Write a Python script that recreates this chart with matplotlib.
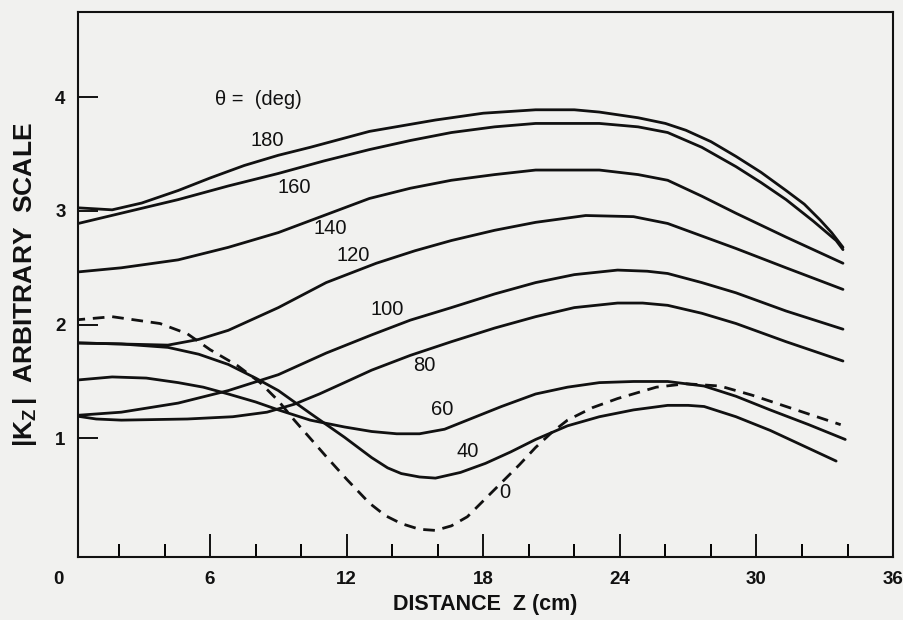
import numpy as np
import matplotlib
matplotlib.use("Agg")
import matplotlib.pyplot as plt
from matplotlib.ticker import FixedLocator

plt.rcParams['font.family'] = ['Liberation Sans', 'DejaVu Sans']
plt.rcParams['mathtext.fontset'] = 'custom'
plt.rcParams['mathtext.rm'] = 'Liberation Sans:bold'
plt.rcParams['mathtext.it'] = 'Liberation Sans:italic'

# curve values: distance z (cm) -> |Kz| (arbitrary)
z_180 = [0, 1.7, 3.0, 4.6, 6.0, 7.5, 9.0, 10.4, 13.0, 15.9, 18.0, 20.3, 22.0, 23.1, 24.8,
         26.0, 26.9, 28.0, 29.1, 30.2, 31.3, 32.1, 32.8, 33.3, 33.8]
k_180 = [3.03, 3.01, 3.07, 3.18, 3.29, 3.40, 3.49, 3.56, 3.70, 3.80, 3.86, 3.89, 3.89, 3.87, 3.82,
         3.77, 3.71, 3.61, 3.48, 3.34, 3.18, 3.06, 2.92, 2.81, 2.68]

z_160 = [0, 2.3, 4.6, 6.8, 9.0, 11.0, 13.0, 14.8, 16.6, 18.5, 20.3, 23.1, 24.8, 26.1, 27.6,
         29.1, 30.2, 31.3, 32.5, 33.5, 33.8]
k_160 = [2.88, 2.99, 3.10, 3.22, 3.33, 3.44, 3.54, 3.62, 3.69, 3.74, 3.77, 3.77, 3.74, 3.69, 3.56,
         3.39, 3.25, 3.10, 2.91, 2.74, 2.66]

z_140 = [0, 2.1, 4.6, 6.8, 9.0, 11.0, 13.0, 14.8, 16.6, 18.5, 20.3, 23.1, 24.8, 26.1, 27.6,
         29.1, 31.3, 33.8]
k_140 = [2.46, 2.50, 2.57, 2.68, 2.81, 2.96, 3.11, 3.20, 3.27, 3.32, 3.36, 3.36, 3.32, 3.27, 3.13,
         2.98, 2.77, 2.54]

z_120 = [0, 2.1, 4.15, 5.5, 6.8, 9.0, 11.1, 13.3, 15.0, 16.6, 18.5, 20.3, 22.5, 24.6, 26.1,
         27.6, 29.1, 31.3, 33.8]
k_120 = [1.84, 1.83, 1.82, 1.87, 1.95, 2.15, 2.37, 2.54, 2.65, 2.74, 2.83, 2.90, 2.96, 2.95, 2.89,
         2.78, 2.67, 2.50, 2.31]

z_100 = [0, 2.1, 4.6, 6.8, 9.0, 11.1, 13.1, 14.8, 16.6, 18.5, 20.3, 22.0, 23.9, 25.2, 26.1,
         27.6, 29.1, 31.3, 33.8]
k_100 = [1.20, 1.23, 1.31, 1.42, 1.56, 1.75, 1.91, 2.04, 2.15, 2.27, 2.37, 2.44, 2.48, 2.47, 2.45,
         2.37, 2.28, 2.12, 1.96]

z_80 = [0, 1.0, 2.1, 5.0, 7.0, 8.5, 9.7, 10.8, 11.9, 13.1, 14.8, 16.6, 18.5, 20.3, 22.0,
        23.9, 25.0, 26.1, 27.6, 29.1, 31.3, 33.8]
k_80 = [1.20, 1.17, 1.16, 1.17, 1.19, 1.23, 1.30, 1.39, 1.49, 1.60, 1.73, 1.85, 1.97, 2.07, 2.15,
        2.19, 2.19, 2.17, 2.10, 2.01, 1.85, 1.68]

z_60 = [0, 1.7, 3.2, 4.6, 5.7, 6.8, 8.0, 9.0, 10.4, 11.9, 13.1, 14.2, 15.2, 16.3, 17.3,
        18.8, 20.3, 21.7, 23.1, 24.6, 26.1, 27.7, 29.1, 30.6, 32.3, 33.9]
k_60 = [1.51, 1.54, 1.53, 1.49, 1.45, 1.39, 1.32, 1.25, 1.16, 1.10, 1.06, 1.04, 1.04, 1.08, 1.16,
        1.28, 1.39, 1.45, 1.49, 1.50, 1.50, 1.46, 1.37, 1.25, 1.12, 0.99]

z_40 = [0, 2.1, 4.15, 5.5, 6.8, 8.0, 9.0, 10.4, 11.9, 13.1, 13.8, 14.4, 15.2, 15.9, 17.0,
        18.1, 19.2, 20.3, 21.7, 23.1, 24.6, 26.1, 27.0, 27.7, 29.1, 30.6, 33.5]
k_40 = [1.84, 1.83, 1.80, 1.74, 1.65, 1.53, 1.42, 1.22, 1.01, 0.83, 0.74, 0.69, 0.66, 0.65, 0.70,
        0.78, 0.88, 0.99, 1.11, 1.19, 1.25, 1.29, 1.29, 1.28, 1.19, 1.07, 0.80]

z_0 = [0, 1.7, 3.8, 5.0, 6.0, 7.2, 8.2, 9.0, 9.7, 10.4, 11.1, 12.0, 13.0, 13.7, 14.4,
       15.2, 15.9, 16.6, 17.3, 18.0, 18.8, 19.6, 20.3, 21.0, 21.7, 22.8, 23.9, 25.6, 26.9,
       28.4, 29.8, 31.3, 33.7]
k_0 = [2.04, 2.07, 2.01, 1.92, 1.78, 1.64, 1.49, 1.33, 1.16, 1.00, 0.84, 0.64, 0.43, 0.32, 0.25,
       0.20, 0.19, 0.23, 0.31, 0.45, 0.61, 0.77, 0.92, 1.05, 1.16, 1.27, 1.35, 1.45, 1.48,
       1.46, 1.38, 1.28, 1.12]

# curve labels (text, z, k)
labels = ["180", "160", "140", "120", "100", "80", "60", "40", "0"]
label_z = [8.5, 9.7, 11.3, 12.3, 13.8, 15.4, 16.2, 17.3, 18.95]
label_k = [3.62, 3.21, 2.85, 2.61, 2.13, 1.64, 1.25, 0.88, 0.52]

x_ticks = [6, 12, 18, 24, 30, 36]
x_minor = [2, 4, 8, 10, 14, 16, 20, 22, 26, 28, 32, 34]
y_ticks = [1, 2, 3, 4]

bg = '#f1f1ef'
ink = '#111111'

fig = plt.figure(figsize=(9.04, 6.2), dpi=100, facecolor=bg)
ax = fig.add_axes([0.0863, 0.1016, 0.9016, 0.879])
ax.set_facecolor(bg)

solid = [(z_180, k_180), (z_160, k_160), (z_140, k_140), (z_120, k_120),
         (z_100, k_100), (z_80, k_80), (z_60, k_60), (z_40, k_40)]
for z, k in solid:
    ax.plot(z, k, color=ink, lw=2.0, solid_joinstyle='round', solid_capstyle='round')
ax.plot(z_0, k_0, color=ink, lw=2.0, dashes=(4.2, 2.8), dash_capstyle='butt')

for t, xz, yk in zip(labels, label_z, label_k):
    ax.text(xz, yk, t, fontsize=14.5, color=ink, ha='center', va='center')
ax.text(6.2, 3.98, "θ =  (deg)", fontsize=14.5, color=ink, ha='left', va='center')

ax.set_xlim(0.2, 36)
ax.set_ylim(-0.044, 4.75)

ax.xaxis.set_major_locator(FixedLocator(x_ticks))
ax.xaxis.set_minor_locator(FixedLocator(x_minor))
ax.yaxis.set_major_locator(FixedLocator(y_ticks))
ax.tick_params(axis='x', which='major', direction='in', length=16.5, width=1.4,
               pad=10, labelsize=13.5, colors=ink, top=False)
ax.tick_params(axis='x', which='minor', direction='in', length=9.4, width=1.4, top=False)
ax.tick_params(axis='y', which='major', direction='in', length=14.5, width=1.4,
               pad=9, labelsize=13.5, colors=ink, right=False)
for lab in ax.get_xticklabels() + ax.get_yticklabels():
    lab.set_fontweight('bold')
# the "0" sits left of the frame, on the tick label baseline
ax.text(-0.66, -0.042, "0", transform=ax.get_xaxis_transform(), fontsize=13.5,
        fontweight='bold', color=ink, ha='center', va='center', clip_on=False)

for sp in ax.spines.values():
    sp.set_linewidth(1.5)
    sp.set_color(ink)

ax.set_xlabel("DISTANCE  Z (cm)", fontsize=15.5, fontweight='bold', color=ink, va='center')
ax.xaxis.set_label_coords(0.50, -0.087)
ax.set_ylabel(r"$|\mathrm{K_Z}\,|$  ARBITRARY  SCALE", fontsize=19, fontweight='bold',
              color=ink, va='center')
ax.yaxis.set_label_coords(-0.065, 0.5)

fig.savefig("out.png", dpi=100, facecolor=bg)
